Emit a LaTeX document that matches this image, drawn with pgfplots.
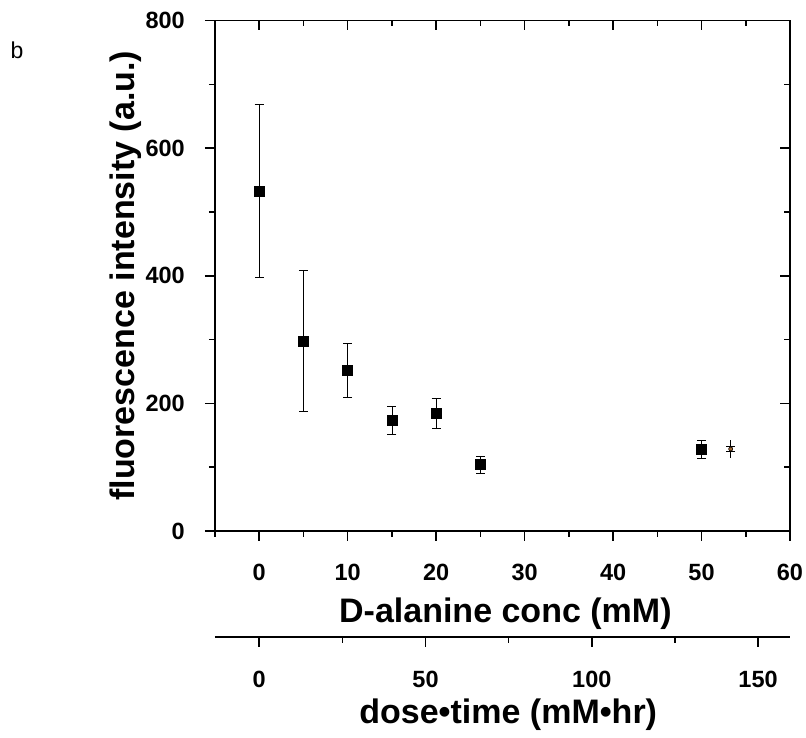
\documentclass[border=0pt]{standalone}
\usepackage{pgfplots}
\pgfplotsset{compat=1.18}
\usepackage{pgfplotstable}
\usepackage{fontspec}
\setmainfont{Liberation Sans}
\pgfplotstableread{
x y e
0 533 136
5 298 110
10 252 42
15 173 22
20 184 23.5
25 104 13
50 128 14
}\maindata
\pgfplotstableread{
x y e
53.3 128.5 13.5
}\extraA
\pgfplotstableread{
x y e
53.3 128.5 4.5
}\extraB
\begin{document}
\begin{tikzpicture}
\path[use as bounding box] (-215pt,-207pt) rectangle (591pt,531pt);
\pgfplotsset{
  base/.style={
    scale only axis, width=575pt, height=510.5pt,
    xmin=-5, xmax=60, ymin=0, ymax=800,
    xtick={0,10,...,60}, minor xtick={-5,5,15,25,35,45,55},
    ytick={0,200,...,800}, minor ytick={100,300,500,700},
    major tick length=10pt, minor tick length=6pt,
    every tick/.style={black, line width=1.6pt},
    minor tick style={line width=1.6pt},
    axis line style={line width=1.6pt},
    /pgf/number format/assume math mode=true,
    tick label style={font=\fontsize{23.5}{27}\selectfont\bfseries},
  }
}
\begin{axis}[base, at={(0,0)}, anchor=south west,
  axis lines=box,
  xtick pos=bottom, ytick pos=left, tick align=outside,
  xticklabel style={anchor=center, yshift=-31pt},
  yticklabel style={anchor=east, inner sep=0pt, xshift=-20pt},
  xlabel={D-alanine conc (mM)},
  ylabel={fluorescence intensity (a.u.)},
  every axis x label/.style={at={(axis description cs:0.505,0)}, anchor=center, yshift=-83pt, font=\fontsize{34}{38}\selectfont\bfseries},
  every axis y label/.style={at={(axis description cs:-0.156,0.5)}, anchor=center, rotate=90, font=\fontsize{34}{38}\selectfont\bfseries},
  clip=false,
]
\addplot+[only marks, mark=square*, mark size=5pt, black, mark options={fill=black},
  error bars/.cd, y dir=both, y explicit,
  error bar style={line width=0.8pt, black},
  error mark options={rotate=90, mark size=4.5pt, line width=0.8pt, black}]
  table[x=x, y=y, y error=e]{\maindata};
\addplot+[only marks, mark=none, black,
  error bars/.cd, y dir=both, y explicit, error mark=none,
  error bar style={line width=0.8pt, black}]
  table[x=x, y=y, y error=e]{\extraA};
\addplot+[only marks, mark=none, black,
  error bars/.cd, y dir=both, y explicit,
  error bar style={line width=0.8pt, black},
  error mark options={rotate=90, mark size=4.5pt, line width=0.8pt, black}]
  table[x=x, y=y, y error=e]{\extraB};
\end{axis}
\begin{axis}[base, at={(0,0)}, anchor=south west,
  axis lines=box,
  xtick pos=top, ytick pos=right, tick align=inside,
  xticklabels={}, yticklabels={},
]
\end{axis}
\begin{axis}[scale only axis, width=575pt, height=1pt,
  at={(0,-106pt)}, anchor=south west,
  xmin=-13.3, xmax=159.6, ymin=0, ymax=1,
  axis x line*=bottom, axis y line=none,
  axis line style={line width=1.6pt, -},
  xtick={0,50,100,150}, minor xtick={25,75,125},
  major tick length=10pt, minor tick length=6pt,
  every tick/.style={black, line width=1.6pt},
  tick align=outside,
  /pgf/number format/assume math mode=true,
  xticklabel style={font=\fontsize{23.5}{27}\selectfont\bfseries, anchor=center, yshift=-32pt},
  xlabel={dose•time (mM•hr)},
  every axis x label/.style={at={(axis description cs:0.51,0)}, anchor=center, yshift=-78pt, font=\fontsize{34}{38}\selectfont\bfseries},
]
\end{axis}
\node[font=\fontsize{23}{27}\selectfont] at (-198pt,481pt) {b};
\end{tikzpicture}
\end{document}
